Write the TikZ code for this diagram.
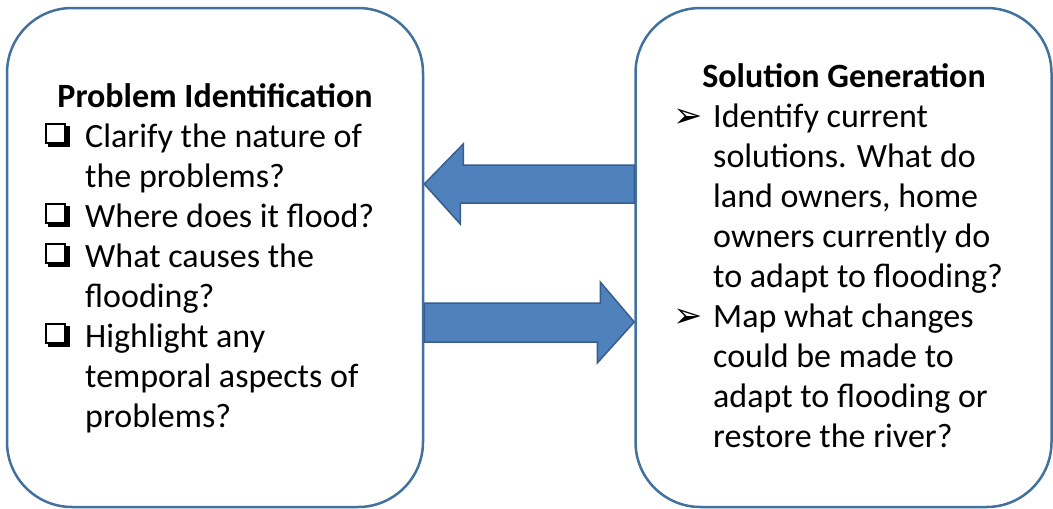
\documentclass[tikz,border=0pt]{standalone}
\usepackage{fontspec}
\setmainfont{Carlito}
\newfontfamily\symfont{DejaVu Sans}
\definecolor{BoxBlue}{HTML}{41719C}
\definecolor{ArrowBlue}{HTML}{4F81BD}
\definecolor{ArrowEdge}{HTML}{385D8A}
% shadowed check box, built from rules
\newcommand{\chk}{\makebox[25pt][l]{%
  \rlap{\raisebox{3pt}{\rule{2pt}{21pt}}}%
  \rlap{\raisebox{22pt}{\rule{21pt}{2pt}}}%
  \rlap{\raisebox{3pt}{\rule{21pt}{2pt}}}%
  \rlap{\kern19pt\raisebox{3pt}{\rule{2pt}{21pt}}}%
  \rlap{\kern3pt\rule{22pt}{4pt}}%
  \rlap{\kern21pt\rule{4pt}{21pt}}}}
\newcommand{\pnt}{{\symfont\fontsize{35}{40}\selectfont ➢}}

\begin{document}
\begin{tikzpicture}[x=1pt,y=-1pt,
  every node/.style={font=\fontsize{34}{40}\selectfont},
  panel/.style={draw=BoxBlue,line width=2.5pt,rounded corners=65pt,
    minimum width=416pt,minimum height=499pt,inner sep=0pt},
  blockarrow/.style={draw=ArrowEdge,fill=ArrowBlue,line width=1.5pt,line join=miter},
  listtext/.style={anchor=base west,inner sep=0pt,align=left}]
  \useasboundingbox (0,0) rectangle (1053,509);

  \node[panel] (problem)  at (215,257.5) {};
  \node[panel] (solution) at (843.5,257.5) {};

  % block arrows between the panels
  \draw[blockarrow] (problem.east |- 0,184) -- ++(39,-40) -- ++(0,21)
    -- (solution.west |- 0,165) -- (solution.west |- 0,203) -- ++(-174,0)
    -- ++(0,21) -- cycle;
  \draw[blockarrow] (problem.east |- 0,303) -- ++(176,0) -- ++(0,-21)
    -- (solution.west |- 0,322) -- ++(-37,41) -- ++(0,-21)
    -- (problem.east |- 0,342) -- cycle;

  \node[anchor=base] (ptitle) at (215,107) {\bfseries Problem Identification};
  \node[listtext] (plist) at (45,147) {%
    \begin{tabular}[t]{@{}p{40pt}@{}l@{}}
      \chk & Clarify the nature of\\
           & the problems?\\
      \chk & Where does it flood?\\
      \chk & What causes the\\
           & flooding?\\
      \chk & Highlight any\\
           & temporal aspects of\\
           & problems?
    \end{tabular}};

  \node[anchor=base] (stitle) at (844,87) {\bfseries Solution Generation};
  \node[listtext] (slist) at (673,127) {%
    \begin{tabular}[t]{@{}p{40pt}@{}l@{}}
      \pnt & Identify current\\
           & solutions. What do\\
           & land owners, home\\
           & owners currently do\\
           & to adapt to flooding?\\
      \pnt & Map what changes\\
           & could be made to\\
           & adapt to flooding or\\
           & restore the river?
    \end{tabular}};
\end{tikzpicture}
\end{document}
